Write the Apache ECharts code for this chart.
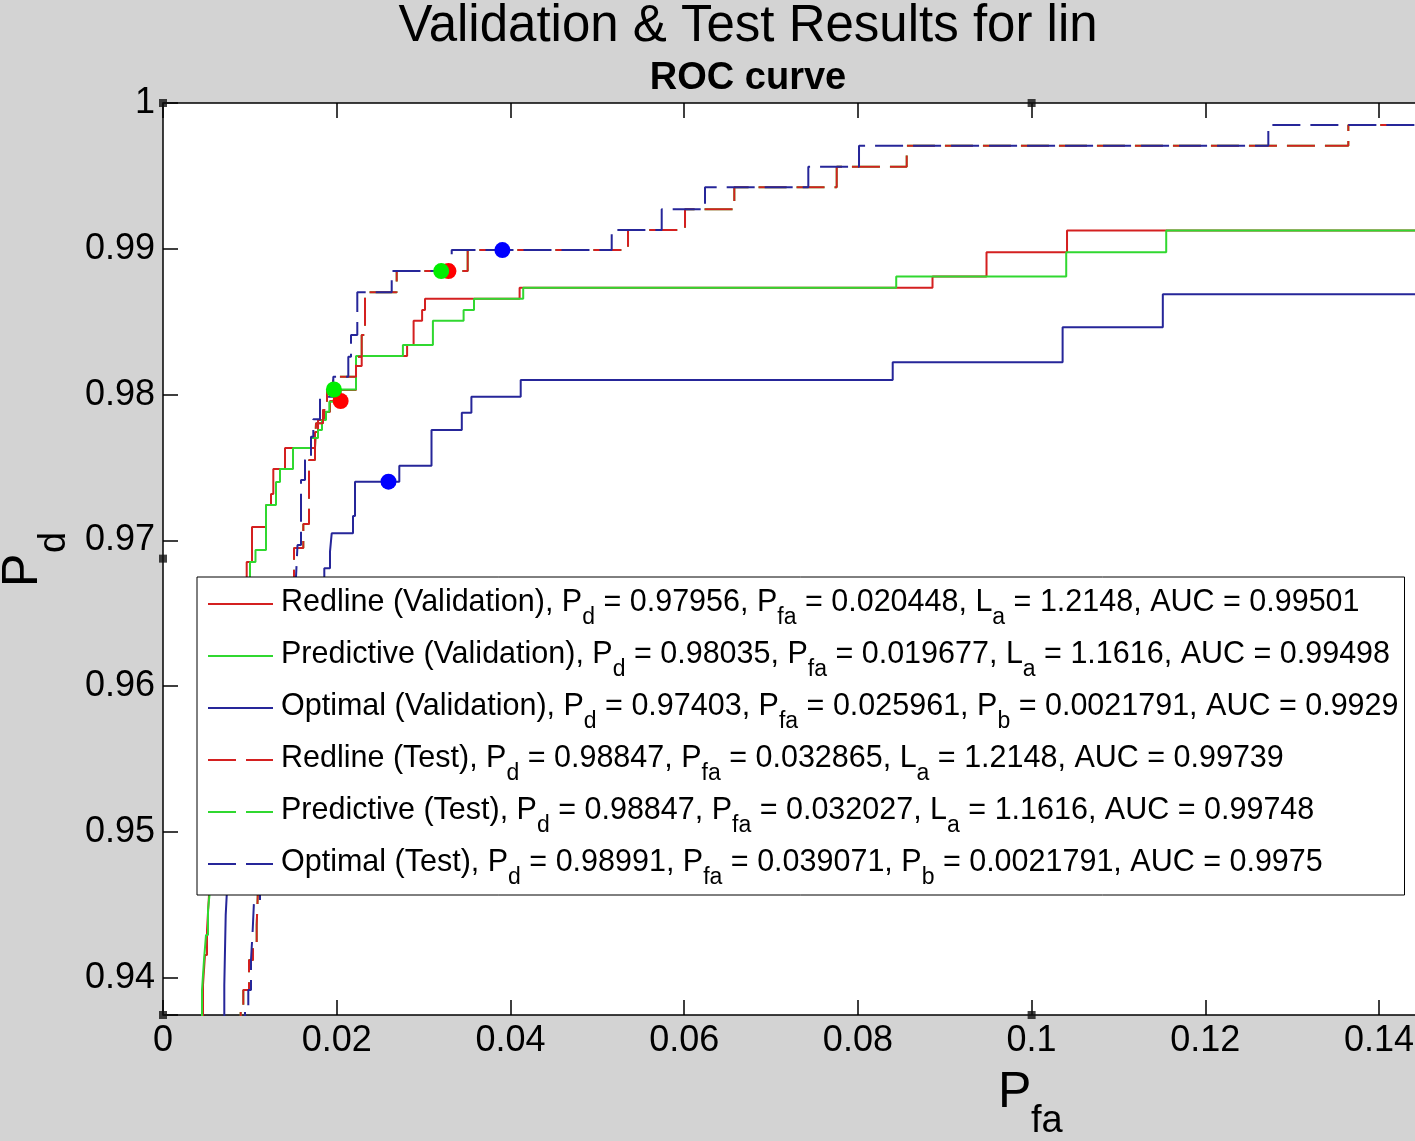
<!DOCTYPE html>
<html>
<head>
<meta charset="utf-8">
<script src="https://cdn.jsdelivr.net/npm/echarts@6/dist/echarts.min.js"></script>
<style>
html,body{margin:0;padding:0;background:#d3d3d3;}
#c{width:1415px;height:1141px;}
</style>
</head>
<body>
<div id="c"></div>
<script>
const FONT = '"Liberation Sans", Arial, Helvetica, sans-serif';

// ---- legend / operating point data ----
const seriesNames = ['Redline (Validation)', 'Predictive (Validation)', 'Optimal (Validation)',
                     'Redline (Test)', 'Predictive (Test)', 'Optimal (Test)'];
const opPd  = [0.97956, 0.98035, 0.97403, 0.98847, 0.98847, 0.98991];
const opPfa = [0.020448, 0.019677, 0.025961, 0.032865, 0.032027, 0.039071];
const thirdName  = ['L', 'L', 'P', 'L', 'L', 'P'];
const thirdSub   = ['a', 'a', 'b', 'a', 'a', 'b'];
const thirdValue = [1.2148, 1.1616, 0.0021791, 1.2148, 1.1616, 0.0021791];
const aucValues  = [0.99501, 0.99498, 0.9929, 0.99739, 0.99748, 0.9975];

// ---- ROC curves (step points: Pfa, Pd) ----
const redValPfa = [0.004605,0.004605,0.004835,0.005066,0.005296,0.005526,0.006102,0.006793,0.007598,0.008404,0.009095,0.009636,0.010246,0.011858,0.012434,0.012699,0.014046,0.017499,0.017845,0.018536,0.019226,0.020448,0.022220,0.022876,0.028103,0.028851,0.029830,0.030164,0.041055,0.088591,0.094808,0.104076,0.2];
const redValPd  = [0.935734,0.939506,0.941564,0.943278,0.945679,0.947394,0.950823,0.954938,0.959053,0.963169,0.965912,0.968519,0.970919,0.972428,0.973182,0.974897,0.976337,0.977435,0.978258,0.978807,0.97956,0.980316,0.981962,0.982647,0.983402,0.985069,0.985802,0.986577,0.987332,0.988100,0.989760,0.991255,0.991255];

const predValPfa = [0.004490,0.004490,0.004720,0.004950,0.005181,0.005411,0.005756,0.006332,0.007023,0.007829,0.008635,0.009325,0.010016,0.010649,0.011858,0.013009,0.013470,0.014967,0.017039,0.017845,0.018305,0.018766,0.019146,0.019677,0.022220,0.027619,0.031073,0.034607,0.035805,0.041469,0.084412,0.103984,0.115496,0.2];
const predValPd  = [0.935734,0.939163,0.941221,0.942936,0.944650,0.946022,0.948080,0.951509,0.955624,0.959396,0.963169,0.966461,0.968519,0.969342,0.972428,0.974005,0.974897,0.976337,0.977023,0.977572,0.978258,0.978827,0.979513,0.98035,0.982647,0.983402,0.985069,0.985802,0.986577,0.987332,0.988100,0.989760,0.991255,0.991255];

const optValPfa = [0.007057,0.007057,0.007219,0.007426,0.008404,0.009786,0.011398,0.013470,0.015773,0.018570,0.019226,0.019422,0.021874,0.022105,0.027205,0.030912,0.034400,0.035505,0.041181,0.084009,0.103569,0.115105,0.2];
const optValPd  = [0.935734,0.939506,0.944307,0.946708,0.950823,0.954938,0.959053,0.963169,0.965912,0.968086,0.969225,0.970487,0.971674,0.97403,0.975123,0.977572,0.978758,0.979856,0.981001,0.982215,0.984616,0.986879,0.986879];

const redTestPfa = [0.008945,0.008945,0.009245,0.009901,0.010362,0.010787,0.010972,0.011513,0.012319,0.013240,0.014161,0.014736,0.015082,0.016152,0.016809,0.017499,0.017615,0.018420,0.018881,0.019572,0.022220,0.022876,0.023256,0.026905,0.035079,0.053535,0.060097,0.065772,0.077562,0.085621,0.136461,0.2];
const redTestPd  = [0.935734,0.937997,0.939163,0.941221,0.942250,0.943621,0.946708,0.950823,0.955624,0.960425,0.964540,0.966598,0.969479,0.971125,0.975514,0.976337,0.978032,0.978944,0.980316,0.981228,0.982599,0.984088,0.987016,0.98847,0.98991,0.991289,0.992709,0.994218,0.995631,0.997071,0.998491,0.998491];

const predTestPfa = [0.008945,0.008945,0.009245,0.009901,0.010362,0.010787,0.010972,0.011513,0.012319,0.013240,0.014161,0.014736,0.015082,0.016152,0.016809,0.017499,0.017615,0.018420,0.018881,0.019572,0.022220,0.022876,0.023256,0.026905,0.035079,0.053535,0.060097,0.065772,0.077562,0.085621,0.136461,0.2];
const predTestPd  = [0.935734,0.937997,0.939163,0.941221,0.942250,0.943621,0.946708,0.950823,0.955624,0.960425,0.964540,0.966598,0.969479,0.971125,0.975514,0.976337,0.978032,0.978944,0.980316,0.981228,0.982599,0.984088,0.987016,0.98847,0.98991,0.991289,0.992709,0.994218,0.995631,0.997071,0.998491,0.998491];

const optTestPfa = [0.009440,0.009440,0.009820,0.010131,0.010327,0.010477,0.011167,0.011858,0.012779,0.013700,0.014621,0.015312,0.015485,0.015888,0.016348,0.017039,0.017304,0.018075,0.019606,0.021333,0.021644,0.022369,0.026330,0.033238,0.051658,0.057414,0.062399,0.074292,0.080129,0.127251,0.2];
const optTestPd  = [0.935734,0.937997,0.939163,0.941221,0.943278,0.945267,0.946708,0.950823,0.955624,0.960425,0.964540,0.967490,0.969684,0.974143,0.975514,0.977112,0.978306,0.979856,0.981228,0.982599,0.984088,0.987016,0.98847,0.98991,0.991289,0.992709,0.994218,0.995631,0.997071,0.998491,0.998491];

// ---- axes ----
const xMin = 0, xMax = 0.14644, xStep = 0.02;
const yMin = 0.93745, yMax = 1, yStep = 0.01;

// ---- axes selection handles (figure edit handles) ----
const handlePfa = [0, 0.1, 0, 0, 0.1];
const handlePd  = [1, 1, 0.96875, yMin, yMin];

const RED = '#d42020', GREEN = '#30d830', BLUE = '#262699';
const lineColors = [RED, GREEN, BLUE, RED, GREEN, BLUE];
const lineDashed = [false, false, false, true, true, true];

function zip(xs, ys) { return xs.map((x, i) => [x, ys[i]]); }

function lineSeries(idx, xs, ys, z) {
  const color = lineColors[idx];
  return {
    type: 'line', name: seriesNames[idx], data: zip(xs, ys), step: 'end',
    symbol: 'none', showSymbol: false, clip: true, z: z, color: color,
    lineStyle: { color: color, width: 2, type: lineDashed[idx] ? [28, 10] : 'solid' },
    itemStyle: { color: color },
    emphasis: { disabled: true }, silent: true
  };
}

function dotSeries(indices, color) {
  return {
    type: 'scatter', data: indices.map(i => [opPfa[i], opPd[i]]),
    symbol: 'circle', symbolSize: 16, z: 5, clip: false, silent: true,
    itemStyle: { color: color, opacity: 1 }
  };
}

const axisCommon = {
  axisLine: { show: true, onZero: false, lineStyle: { color: '#000', width: 1.5 } },
  axisTick: { show: true, inside: true, length: 15, lineStyle: { color: '#000', width: 1.5 } },
  splitLine: { show: false }
};

const chart = echarts.init(document.getElementById('c'), null, { renderer: 'canvas' });
chart.setOption({
  backgroundColor: '#d3d3d3',
  animation: false,
  grid: { left: 163, top: 103, width: 1272, height: 912, outerBoundsMode: 'none', containLabel: false,
          show: true, backgroundColor: '#ffffff', borderWidth: 0 },
  xAxis: [
    Object.assign({
      type: 'value', position: 'bottom', min: xMin, max: xMax, interval: xStep,
      axisLabel: {
        margin: 8, fontSize: 36, color: '#000', fontFamily: FONT, hideOverlap: false,
        formatter: v => { const r = Math.round(v / xStep) * xStep; return Math.abs(v - r) > 1e-9 ? '' : String(+r.toFixed(2)); }
      }
    }, axisCommon),
    Object.assign({
      type: 'value', position: 'top', min: xMin, max: xMax, interval: xStep,
      axisLabel: { show: false }
    }, axisCommon)
  ],
  yAxis: [
    Object.assign({
      type: 'value', position: 'left', min: yMin, max: yMax, minInterval: yStep, maxInterval: yStep,
      axisLabel: {
        margin: 8, fontSize: 36, color: '#000', fontFamily: FONT,
        formatter: v => { const r = Math.round(v / yStep) * yStep; return Math.abs(v - r) > 1e-9 ? '' : String(+r.toFixed(2)); }
      }
    }, axisCommon)
  ],
  legend: {
    data: seriesNames.map((n, i) => ({
      name: n,
      itemStyle: { opacity: 0, borderWidth: 0 },
      lineStyle: { color: lineColors[i], width: 2, opacity: 1, type: lineDashed[i] ? [28, 10] : 'solid' }
    })),
    orient: 'vertical', left: 197, top: 577,
    padding: [10, 6, 6, 10], itemGap: 10, itemWidth: 65, itemHeight: 14,
    backgroundColor: '#ffffff', borderColor: '#000', borderWidth: 1, borderRadius: 0,
    selectedMode: false,
    formatter: name => {
      const i = seriesNames.indexOf(name);
      return '{f|' + name + ', P}{s|d}{m| = ' + opPd[i] + ', P}{s|fa}{m| = ' + opPfa[i] + ', ' +
             thirdName[i] + '}{s|' + thirdSub[i] + '}{m| = ' + thirdValue[i] + ', AUC = ' + aucValues[i] + '}';
    },
    textStyle: {
      fontFamily: FONT, fontSize: 30.5, color: '#000',
      rich: {
        f: { fontFamily: FONT, fontSize: 30.5, color: '#000', lineHeight: 34, verticalAlign: 'top', padding: [0, 0, 0, 3] },
        m: { fontFamily: FONT, fontSize: 30.5, color: '#000', lineHeight: 34, verticalAlign: 'top' },
        s: { fontFamily: FONT, fontSize: 23, color: '#000', lineHeight: 24, verticalAlign: 'top', padding: [19, 0, 0, 0] }
      }
    }
  },
  graphic: [
    { type: 'text', x: 748, y: 27, silent: true,
      style: { text: 'Validation & Test Results for lin', font: 'normal 51px ' + FONT, fontSize: 51, fontFamily: FONT,
               fill: '#000', align: 'center', textAlign: 'center', verticalAlign: 'middle', textVerticalAlign: 'middle' } },
    { type: 'text', x: 748, y: 79, silent: true,
      style: { text: 'ROC curve', font: 'bold 38px ' + FONT, fontSize: 38, fontWeight: 'bold', fontFamily: FONT,
               fill: '#000', align: 'center', textAlign: 'center', verticalAlign: 'middle', textVerticalAlign: 'middle' } },
    { type: 'group', x: 998, y: 1110, silent: true, children: [
      { type: 'text', x: 0, y: -16.5, style: { text: 'P', font: 'normal 50px ' + FONT, fontSize: 50, fontFamily: FONT, fill: '#000',
        align: 'left', textAlign: 'left', verticalAlign: 'middle', textVerticalAlign: 'middle' } },
      { type: 'text', x: 33, y: 24 - 12.5, style: { text: 'fa', font: 'normal 38px ' + FONT, fontSize: 38, fontFamily: FONT, fill: '#000',
        align: 'left', textAlign: 'left', verticalAlign: 'middle', textVerticalAlign: 'middle' } }
    ] },
    { type: 'group', x: 40, y: 587, rotation: Math.PI / 2, silent: true, children: [
      { type: 'text', x: 0, y: -16.5, style: { text: 'P', font: 'normal 50px ' + FONT, fontSize: 50, fontFamily: FONT, fill: '#000',
        align: 'left', textAlign: 'left', verticalAlign: 'middle', textVerticalAlign: 'middle' } },
      { type: 'text', x: 34, y: 27 - 12.5, style: { text: 'd', font: 'normal 38px ' + FONT, fontSize: 38, fontFamily: FONT, fill: '#000',
        align: 'left', textAlign: 'left', verticalAlign: 'middle', textVerticalAlign: 'middle' } }
    ] }
  ],
  series: [
    lineSeries(0, redValPfa, redValPd, 2),
    lineSeries(1, predValPfa, predValPd, 2),
    lineSeries(2, optValPfa, optValPd, 2),
    lineSeries(3, redTestPfa, redTestPd, 2),
    lineSeries(4, predTestPfa, predTestPd, 1),
    lineSeries(5, optTestPfa, optTestPd, 2),
    dotSeries([0, 3], '#ff0000'),
    dotSeries([1, 4], '#00ee00'),
    dotSeries([2, 5], '#0000ff'),
    { type: 'scatter', data: zip(handlePfa, handlePd), symbol: 'rect', symbolSize: 8, z: 6, clip: false, silent: true,
      itemStyle: { color: '#111' } }
  ]
});
</script>
</body>
</html>
